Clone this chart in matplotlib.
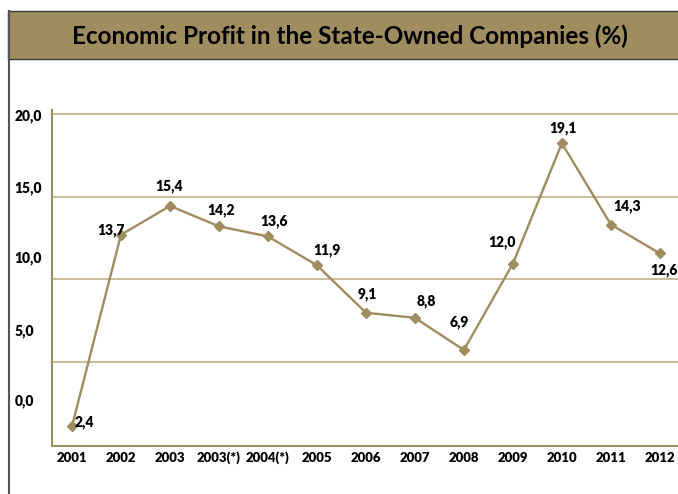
import matplotlib.pyplot as plt
from matplotlib.patches import Rectangle
from matplotlib.lines import Line2D

years = ['2001', '2002', '2003', '2003(*)', '2004(*)', '2005', '2006',
         '2007', '2008', '2009', '2010', '2011', '2012']
profit = [2.4, 13.7, 15.4, 14.2, 13.6, 11.9, 9.1, 8.8, 6.9, 12.0, 19.1, 14.3, 12.6]

# the source chart's axis is not aligned with its own labels, copy it as drawn
grid_vals = [1.24, 6.19, 11.09, 15.93, 20.83]
ytick_pos = [3.95, 8.08, 12.39, 16.52, 20.77]
ytick_text = ['0,0', '5,0', '10,0', '15,0', '20,0']

# label offsets in pixels (dx, dy)
label_offsets = [(12, 4), (-10, 5), (-1, 20), (2, 16), (6, 15), (10, 15), (1, 19),
                 (11, 17), (-5, 28), (-11, 21), (1, 15), (16, 18), (4, -17)]

tan = '#A08D5F'
grid_c = '#BFB08A'
lab_font = ['Lato', 'DejaVu Sans']

W, H = 678, 494
fig = plt.figure(figsize=(W / 100, H / 100), dpi=100, facecolor='white')

# title banner and left frame line
fig.patches.append(Rectangle((8 / W, 1 - 59 / H), 1.0, 48 / H, transform=fig.transFigure,
                             facecolor=tan, edgecolor='#3a3a3a', lw=1))
fig.lines.append(Line2D([8.5 / W, 8.5 / W], [0, 1 - 11 / H], transform=fig.transFigure,
                        color='#555555', lw=1.5))
fig.text(350 / W, 1 - 36 / H, 'Economic Profit in the State-Owned Companies (%)',
         ha='center', va='center', fontsize=17.5, fontweight='bold', family=lab_font,
         color='black')

ax = fig.add_axes([52 / W, 48 / H, (W - 52) / W, (446 - 110) / H])
x = list(range(len(years)))
ax.plot(x, profit, color=tan, lw=1.7, marker='D', markersize=5, zorder=3)

for i, v in enumerate(profit):
    dx, dy = label_offsets[i]
    ax.annotate(f'{v:.1f}'.replace('.', ','), (i, v), xytext=(dx, dy),
                textcoords='offset pixels', ha='center', va='center',
                fontsize=10, fontweight='heavy', family=lab_font, color='black')

ax.set_xlim(-0.408, 12.37)
ax.set_ylim(1.239, 21.06)

ax.set_yticks(grid_vals)
ax.set_yticklabels([])
ax.set_yticks(ytick_pos, minor=True)
ax.set_yticklabels(ytick_text, minor=True)
ax.tick_params(axis='y', which='both', length=0)
ax.tick_params(axis='y', which='minor', pad=27)
for t in ax.get_yticklabels(minor=True):
    t.set_horizontalalignment('left')
    t.set_fontweight('heavy')
    t.set_fontsize(10)
    t.set_family(lab_font)
ax.grid(axis='y', which='major', color=grid_c, lw=1.2)

ax.set_xticks(x)
ax.set_xticklabels(years, fontsize=9.5, fontweight='heavy', family=lab_font)
ax.tick_params(axis='x', length=0, pad=4)

for s in ['top', 'right']:
    ax.spines[s].set_visible(False)
for s in ['left', 'bottom']:
    ax.spines[s].set_color(tan)
    ax.spines[s].set_linewidth(1.5)

fig.savefig('out.png', dpi=100, facecolor='white')
